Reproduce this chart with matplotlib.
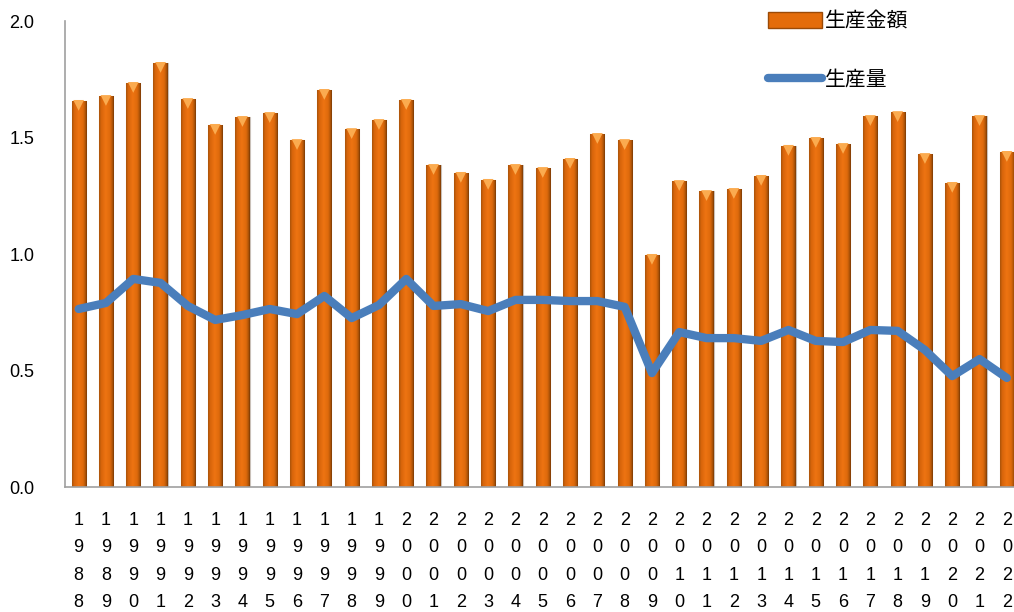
import numpy as np
import matplotlib
matplotlib.use("Agg")
import matplotlib.pyplot as plt
import matplotlib.transforms as mtransforms
from matplotlib.colors import LinearSegmentedColormap
from matplotlib.patches import Patch
from matplotlib.lines import Line2D

years = [str(y) for y in range(1988, 2023)]
amount = [1.657, 1.678, 1.734, 1.820, 1.665, 1.554, 1.588, 1.605, 1.489, 1.704,
          1.536, 1.575, 1.661, 1.382, 1.348, 1.318, 1.382, 1.369, 1.408, 1.515,
          1.489, 0.996, 1.313, 1.270, 1.279, 1.335, 1.464, 1.498, 1.472, 1.592,
          1.609, 1.429, 1.305, 1.592, 1.438]
volume = [0.764, 0.790, 0.893, 0.876, 0.777, 0.717, 0.738, 0.764, 0.742, 0.820,
          0.725, 0.781, 0.893, 0.777, 0.785, 0.755, 0.803, 0.803, 0.798, 0.798,
          0.773, 0.489, 0.665, 0.639, 0.639, 0.627, 0.674, 0.627, 0.622, 0.674,
          0.670, 0.588, 0.476, 0.549, 0.468]
yticks = [0.0, 0.5, 1.0, 1.5, 2.0]
labels = ["生産金額", "生産量"]

plt.rcParams['font.family'] = ['Liberation Sans', 'Noto Sans CJK JP', 'DejaVu Sans']

fig = plt.figure(figsize=(10.14, 6.12), dpi=100)
ax = fig.add_axes([65/1014, 125/612, 955.5/1014, 466/612])

x = np.arange(len(years))
w = 0.52
bar_color = '#E46C0A'
bars = ax.bar(x, amount, width=w, color=bar_color, edgecolor='#c9c0b8', linewidth=0.8, zorder=2)

cmap = LinearSegmentedColormap.from_list('g', [(0, '#a9530a'), (0.15, '#d8650b'), (0.45, '#ee7412'),
                                               (0.75, '#de6a0c'), (0.9, '#b25608'), (1.0, '#7a3a05')])
grad = np.linspace(0, 1, 64).reshape(1, -1)
for b in bars:
    bx, bw, bh = b.get_x(), b.get_width(), b.get_height()
    im = ax.imshow(grad, cmap=cmap, extent=[bx, bx + bw, 0, bh], aspect='auto', zorder=2.5,
                   interpolation='bilinear')
    im.set_clip_path(b)

tri_tr = mtransforms.offset_copy(ax.transData, fig=fig, x=0, y=-3.2, units='points')
ax.scatter(x, amount, marker='v', s=60, color='#fbab4f', edgecolors='none', zorder=3, transform=tri_tr)

ax.plot(x, volume, color='#4A7EBB', linewidth=6, solid_joinstyle='round',
        solid_capstyle='round', zorder=4)

ax.set_xlim(-0.5, len(years) - 0.5)
ax.set_ylim(0, 2.0)
ax.set_yticks(yticks)
ax.set_yticklabels([f"{v:.1f}" for v in yticks], fontsize=13)
ax.set_xticks(x)
ax.set_xticklabels(["\n".join(list(y)) for y in years], fontsize=13, linespacing=1.8, va='top')
ax.tick_params(axis='both', length=0)
ax.tick_params(axis='x', pad=18)
ax.tick_params(axis='y', pad=22)
for s in ['top', 'right']:
    ax.spines[s].set_visible(False)
for s in ['left', 'bottom']:
    ax.spines[s].set_color('#a0a0a0')
    ax.spines[s].set_linewidth(1.2)

handles = [Patch(facecolor=bar_color, edgecolor='#9b4a06'),
           Line2D([0], [0], color='#4A7EBB', linewidth=6, solid_capstyle='round')]
leg = fig.legend(handles, labels, loc='upper left', bbox_to_anchor=(768/1014, 1 - 10/612),
                 frameon=False, handlelength=2.6, handleheight=0.8,
                 handletextpad=0.15, labelspacing=1.75, borderpad=0, borderaxespad=0,
                 prop={'family': ['Noto Sans CJK JP', 'DejaVu Sans'], 'size': 15})

fig.savefig('out.png', dpi=100)
